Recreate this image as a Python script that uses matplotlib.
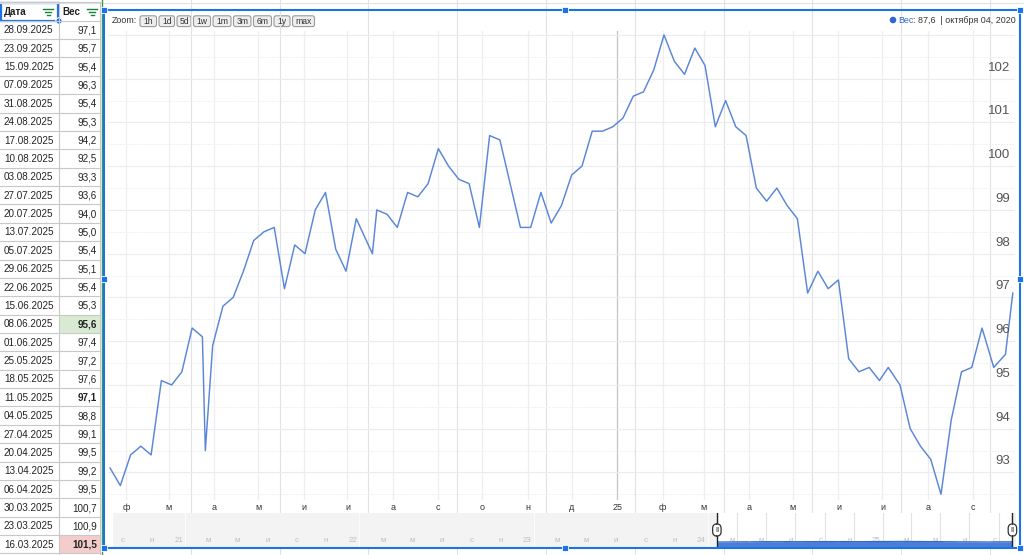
import matplotlib
matplotlib.use("Agg")
import matplotlib.pyplot as plt
import matplotlib.dates as mdates
import matplotlib.transforms as mtrans
from matplotlib.patches import Rectangle, FancyBboxPatch, Circle
from datetime import datetime

plt.rcParams['font.family'] = ['Liberation Sans', 'DejaVu Sans']

# sheet rows, newest first (these are also the last points of the chart)
table_dates = ["28.09.2025", "23.09.2025", "15.09.2025", "07.09.2025", "31.08.2025",
               "24.08.2025", "17.08.2025", "10.08.2025", "03.08.2025", "27.07.2025",
               "20.07.2025", "13.07.2025", "05.07.2025", "29.06.2025", "22.06.2025",
               "15.06.2025", "08.06.2025", "01.06.2025", "25.05.2025", "18.05.2025",
               "11.05.2025", "04.05.2025", "27.04.2025", "20.04.2025", "13.04.2025",
               "06.04.2025", "30.03.2025", "23.03.2025", "16.03.2025"]
table_values = [97.1, 95.7, 95.4, 96.3, 95.4, 95.3, 94.2, 92.5, 93.3, 93.6,
                94.0, 95.0, 95.4, 95.1, 95.4, 95.3, 95.6, 97.4, 97.2, 97.6,
                97.1, 98.8, 99.1, 99.5, 99.2, 99.5, 100.7, 100.9, 101.5]
green_cells = ["08.06.2025"]
red_cells = ["16.03.2025"]
bold_cells = ["08.06.2025", "11.05.2025", "16.03.2025"]

# older weigh-ins
early_dates = ["2024-01-21", "2024-01-28", "2024-02-04", "2024-02-11", "2024-02-18",
               "2024-02-25", "2024-03-03", "2024-03-10", "2024-03-17", "2024-03-24",
               "2024-03-26", "2024-03-31", "2024-04-07", "2024-04-14", "2024-04-21",
               "2024-04-28", "2024-05-05", "2024-05-12", "2024-05-19", "2024-05-26",
               "2024-06-02", "2024-06-09", "2024-06-16", "2024-06-23", "2024-06-30",
               "2024-07-07", "2024-07-18", "2024-07-21", "2024-07-28", "2024-08-04",
               "2024-08-11", "2024-08-18", "2024-08-25", "2024-09-01", "2024-09-08",
               "2024-09-15", "2024-09-22", "2024-09-29", "2024-10-06", "2024-10-13",
               "2024-10-27", "2024-11-03", "2024-11-10", "2024-11-17", "2024-11-24",
               "2024-12-01", "2024-12-08", "2024-12-15", "2024-12-22", "2024-12-29",
               "2025-01-05", "2025-01-12", "2025-01-19", "2025-01-26", "2025-02-02",
               "2025-02-09", "2025-02-16", "2025-02-23", "2025-03-02", "2025-03-09"]
early_values = [93.1, 92.7, 93.4, 93.6, 93.4, 95.1, 95.0, 95.3, 96.3, 96.1,
                93.5, 95.9, 96.8, 97.0, 97.6, 98.3, 98.5, 98.6, 97.2, 98.2,
                98.0, 99.0, 99.4, 98.1, 97.6, 98.8, 98.0, 99.0, 98.9, 98.6,
                99.4, 99.3, 99.6, 100.4, 100.0, 99.7, 99.6, 98.6, 100.7, 100.6,
                98.6, 98.6, 99.4, 98.7, 99.1, 99.8, 100.0, 100.8, 100.8, 100.9,
                101.1, 101.6, 101.7, 102.2, 103.0, 102.4, 102.1, 102.7, 102.3, 100.9]

month_letters = ["я", "ф", "м", "а", "м", "и", "и", "а", "с", "о", "н", "д"]
zoom_buttons = ["1h", "1d", "5d", "1w", "1m", "3m", "6m", "1y", "max"]
zoom_widths = [16.5, 15.5, 14, 17, 18, 17.5, 18, 16, 22]
legend_name = "Вес"
legend_rest = ": 87,6  | октября 04, 2020"

dates = [datetime.strptime(d, "%Y-%m-%d") for d in early_dates]
dates += [datetime.strptime(d, "%d.%m.%Y") for d in reversed(table_dates)]
values = early_values + list(reversed(table_values))

view_start = datetime(2024, 1, 19, 14)
view_end = datetime(2025, 9, 29, 12)
ov_start = datetime(2020, 8, 3)
ov_end = datetime(2025, 10, 7)

W, H = 1024, 555
BLUE = '#1a73e8'
LINE = '#5a86d8'


def px_rect(l, t, r, b):
    return [l / W, 1 - b / H, (r - l) / W, (b - t) / H]


fig = plt.figure(figsize=(W / 100, H / 100), dpi=100)

# ---- spreadsheet background (pixel coords) ----
bg = fig.add_axes([0, 0, 1, 1], zorder=0)
bg.set_xlim(0, W)
bg.set_ylim(H, 0)
bg.axis('off')

grid_c = '#e2e2e2'
bg.axhline(3, color=grid_c, lw=0.8)
for k in range(10):
    bg.axvline(190.7 + k * 88.8, color=grid_c, lw=0.8)

row_h = 18.37
top0 = 20.7
bg.add_patch(Rectangle((0, 0), 101, H, fc='white', ec='none'))
for i, (d, v) in enumerate(zip(table_dates, table_values)):
    t = top0 + i * row_h
    if d in green_cells:
        bg.add_patch(Rectangle((59, t), 41, row_h, fc='#d9ead3', ec='none'))
    if d in red_cells:
        bg.add_patch(Rectangle((59, t), 41, row_h, fc='#f4cccc', ec='none'))
    bg.text(4, t + row_h / 2 + 0.5, d, fontsize=7.1, color='#222', va='center', ha='left')
    bg.text(97, t + row_h / 2 + 0.5, f"{v:.1f}".replace('.', ','), fontsize=7.1,
            color='#222', va='center', ha='right',
            weight='bold' if d in bold_cells else 'normal')
for i in range(len(table_dates) + 1):
    bg.plot([0, 100], [top0 + i * row_h] * 2, color='#c8c8c8', lw=0.8)
bg.plot([0, 100], [2, 2], color='#c8c8c8', lw=0.8)
bg.plot([59, 59], [2, H], color='#c8c8c8', lw=0.8)
bg.plot([100, 100], [2, H], color='#c8c8c8', lw=0.8)
bg.plot([101.5, 101.5], [0, H], color='#3d9b50', lw=1.0)

# header
bg.text(4, 12, "Дата", fontsize=7.1, weight='bold', color='#222', va='center')
bg.text(62, 12, "Вес", fontsize=7.1, weight='bold', color='#222', va='center')
for cx in (48, 92):
    for dy, hw in ((-3, 5), (0, 3.2), (3, 1.5)):
        bg.plot([cx - hw, cx + hw], [12 + dy, 12 + dy], color='#188038', lw=1.0)
bg.add_patch(Rectangle((1, 2.5), 57, 18, fc='none', ec=BLUE, lw=1.6))
bg.add_patch(Circle((59, 21), 3.2, fc=BLUE, ec='white', lw=0.8))

# chart canvas
bg.add_patch(Rectangle((104, 10), 916, 538, fc='white', ec='none'))

# zoom bar
bg.text(112, 20.8, "Zoom:", fontsize=6.4, color='#333', va='center')
bx = 140
for lab, bw in zip(zoom_buttons, zoom_widths):
    bg.add_patch(FancyBboxPatch((bx, 15.8), bw, 10.8, boxstyle='round,pad=0,rounding_size=2.2',
                                fc='#eeeeee', ec='#9a9a9a', lw=0.8))
    bg.text(bx + bw / 2, 21.4, lab, fontsize=6.2, color='#333', ha='center', va='center')
    bx += bw + 2.5

# legend
bg.add_patch(Circle((893, 20), 3.3, fc='#3366cc', ec='none'))
bg.text(898, 20.5, legend_name, fontsize=6.4, color='#3366cc', va='center')
bg.text(913, 20.5, legend_rest, fontsize=6.4, color='#333', va='center')

# ---- main timeline ----
ax = fig.add_axes(px_rect(108, 31, 1015, 500), zorder=1)
ax.set_facecolor('none')
for s in ax.spines.values():
    s.set_visible(False)
ax.set_xlim(view_start, view_end)
ax.set_ylim(92.37, 103.09)

month_ticks, month_labels = [], []
for k in range(20):
    yr = 2024 + (1 + k) // 12
    mo = (1 + k) % 12 + 1
    month_ticks.append(datetime(yr, mo, 1))
    month_labels.append(str(yr)[2:] if mo == 1 else month_letters[mo - 1])
for t in month_ticks:
    ax.axvline(t, color='#c4c4c4' if t.month == 1 else '#eeeeee', lw=0.9, zorder=0)
for v in range(93, 104):
    ax.axhline(v, color='#e8ecf3', lw=0.8, zorder=0)
    ax.axhline(v - 0.5, color='#e8ecf3', lw=0.7, ls=(0, (1.5, 1.5)), zorder=0)

ax.plot(dates, values, color=LINE, lw=1.05, zorder=2)

ax.set_xticks(month_ticks)
ax.set_xticklabels(month_labels)
ax.tick_params(axis='x', length=0, pad=2.5, labelsize=6.5, labelcolor='#333')
ax.set_yticks([])
ytr = mtrans.blended_transform_factory(ax.transAxes, ax.transData)
for v in range(93, 103):
    ax.annotate(str(v), (0.9945, v), xycoords=ytr, xytext=(0, 8), textcoords='offset points',
                ha='right', va='center', fontsize=9.5, color='#555', zorder=3)

# ---- range overview ----
ov = fig.add_axes(px_rect(113, 513, 1016, 547), zorder=1)
ov.set_facecolor('#f3f3f3')
for s in ov.spines.values():
    s.set_visible(False)
ov.set_xlim(ov_start, ov_end)
ov.set_ylim(0, 620)
ov.set_xticks([])
ov.set_yticks([])
ov.axvspan(view_start, view_end, color='white', zorder=0)

otr = mtrans.blended_transform_factory(ov.transData, ov.transAxes)
for m in range(8, 69, 2):
    yr, mo = 2020 + m // 12, m % 12 + 1
    t = datetime(yr, mo, 1)
    inside = view_start <= t <= view_end
    ov.axvline(t, color='#e2e2e2' if inside else ('#fbfbfb' if mo == 1 else '#f3f3f3'),
               lw=0.8, zorder=0.5)
    lab = str(yr)[2:] if mo == 1 else month_letters[mo - 1]
    ov.annotate(lab, (mdates.date2num(t), 0.2), xycoords=otr, xytext=(-1.5, 0),
                textcoords='offset points', ha='right', va='center', fontsize=5.7,
                color='#bdbdbd', zorder=1)

ov.fill_between(dates, 0, values, color='#4a7fd8', lw=0, zorder=2)
ov.plot(dates, values, color='#3366cc', lw=0.8, zorder=2)

for t in (view_start, view_end):
    ov.axvline(t, color='#222', lw=1.0, zorder=3)
    ov.text(mdates.date2num(t), 0.5, "‖", transform=otr, ha='center', va='center',
            fontsize=5.5, color='#222', zorder=4,
            bbox=dict(boxstyle='round,pad=0.35,rounding_size=0.6', fc='white', ec='#333', lw=0.9))

# ---- selection frame on top ----
top = fig.add_axes([0, 0, 1, 1], zorder=5)
top.set_xlim(0, W)
top.set_ylim(H, 0)
top.axis('off')
top.add_patch(Rectangle((104, 10), 916, 538, fc='none', ec=BLUE, lw=1.5))
for hx, hy in ((104, 10), (565, 10), (1020, 10), (104, 279), (1020, 279),
               (104, 548), (565, 548), (1020, 548)):
    top.add_patch(Rectangle((hx - 3, hy - 3), 6, 6, fc=BLUE, ec='white', lw=0.6))

fig.savefig("out.png", dpi=100)
